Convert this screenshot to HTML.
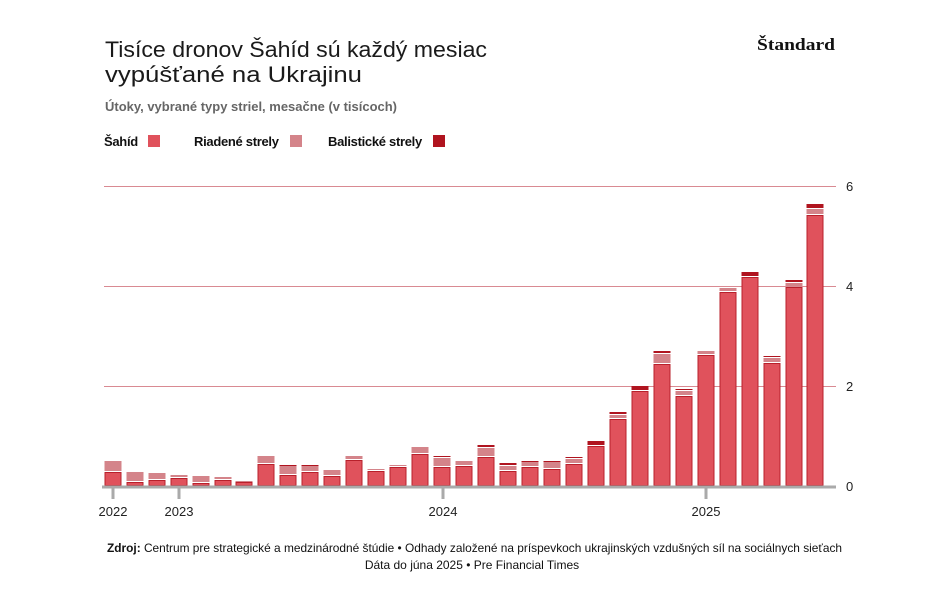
<!DOCTYPE html>
<html><head><meta charset="utf-8"><style>
body{margin:0;background:#fff;}
svg text{font-family:"Liberation Sans",sans-serif;}
</style></head><body>
<svg id="s" width="927" height="600" xmlns="http://www.w3.org/2000/svg">
<text x="105" y="57" font-size="22.5" fill="#1a1a1a" textLength="382" lengthAdjust="spacingAndGlyphs">Tisíce dronov Šahíd sú každý mesiac</text>
<text x="105" y="82" font-size="22.5" fill="#1a1a1a" textLength="257" lengthAdjust="spacingAndGlyphs">vypúšťané na Ukrajinu</text>
<text x="105" y="111" font-size="13" font-weight="bold" fill="#666" textLength="292" lengthAdjust="spacingAndGlyphs">Útoky, vybrané typy striel, mesačne (v tisícoch)</text>
<text x="104" y="146" font-size="13" font-weight="bold" fill="#111" letter-spacing="-0.3">Šahíd</text>
<rect x="148" y="135" width="12" height="12" fill="#e0525c"/>
<text x="194" y="146" font-size="13" font-weight="bold" fill="#111" letter-spacing="-0.3">Riadené strely</text>
<rect x="290" y="135" width="12" height="12" fill="#d4848a"/>
<text x="328" y="146" font-size="13" font-weight="bold" fill="#111" letter-spacing="-0.3">Balistické strely</text>
<rect x="433" y="135" width="12" height="12" fill="#b0141f"/>
<text x="835" y="50" font-size="17" font-weight="bold" text-anchor="end" fill="#111" style="font-family:'Liberation Serif',serif" textLength="78" lengthAdjust="spacingAndGlyphs">Štandard</text>
<g stroke="#d98a92" stroke-width="1">
<line x1="104" x2="836" y1="186.5" y2="186.5"/>
<line x1="104" x2="836" y1="286.5" y2="286.5"/>
<line x1="104" x2="836" y1="386.5" y2="386.5"/>
</g>
<g font-size="13" fill="#222">
<text x="846" y="191">6</text><text x="846" y="291">4</text><text x="846" y="391">2</text><text x="846" y="491">0</text>
</g>
<g id="bars"></g>
<line x1="102" x2="836" y1="487" y2="487" stroke="#aaa" stroke-width="3"/>
<g stroke="#aaa" stroke-width="3">
<line x1="113" x2="113" y1="488" y2="499"/><line x1="179" x2="179" y1="488" y2="499"/>
<line x1="443" x2="443" y1="488" y2="499"/><line x1="706" x2="706" y1="488" y2="499"/>
</g>
<g font-size="13" fill="#222" text-anchor="middle">
<text x="113" y="516">2022</text><text x="179" y="516">2023</text><text x="443" y="516">2024</text><text x="706" y="516">2025</text>
</g>
<text x="107" y="552" font-size="12" fill="#111" textLength="735" lengthAdjust="spacingAndGlyphs"><tspan font-weight="bold">Zdroj:</tspan> Centrum pre strategické a medzinárodné štúdie • Odhady založené na príspevkoch ukrajinských vzdušných síl na sociálnych sieťach</text>
<text x="472" y="569" font-size="12" text-anchor="middle" fill="#111">Dáta do júna 2025 • Pre Financial Times</text>
</svg>
<script>
var d=[[113,472,461,0],[135,482,472,0],[157,480,473,0],[179,478,475,0],[201,483,476,0],[223,480,477,0],[244,482,481,0],[266,464,456,0],[288,475,466,465],[310,472,466,465],[332,476,470,0],[354,460,456,0],[376,471,469,0],[398,467,465,0],[420,454,447,0],[442,467,458,456],[464,466,461,0],[486,457,448,445],[508,471,466,463],[530,467,462,461],[552,469,462,461],[574,464,459,457],[596,446,0,441],[618,419,415,412],[640,391,0,386],[662,364,354,351],[684,396,391,389],[706,355,351,0],[728,292,288,0],[750,277,0,272],[772,363,358,356],[794,287,283,280],[815,215,209,204]];
var g=document.getElementById('bars'),h='';
d.forEach(function(b){var x=b[0]-8.5,w=17,s=b[1];
h+='<rect x="'+(x+.5)+'" y="'+(s+.5)+'" width="'+(w-1)+'" height="'+(486-s-1)+'" fill="#e0525c" stroke="#b8202b" stroke-width="1"/>';
var t=s;
if(b[2]){h+='<rect x="'+x+'" y="'+b[2]+'" width="'+w+'" height="'+Math.max(1,t-1-b[2])+'" fill="#d4848a"/>';t=b[2];}
if(b[3]){h+='<rect x="'+x+'" y="'+b[3]+'" width="'+w+'" height="'+Math.max(1,t-1-b[3])+'" fill="#b0141f"/>';}
});
g.innerHTML=h;
</script>
</body></html>
